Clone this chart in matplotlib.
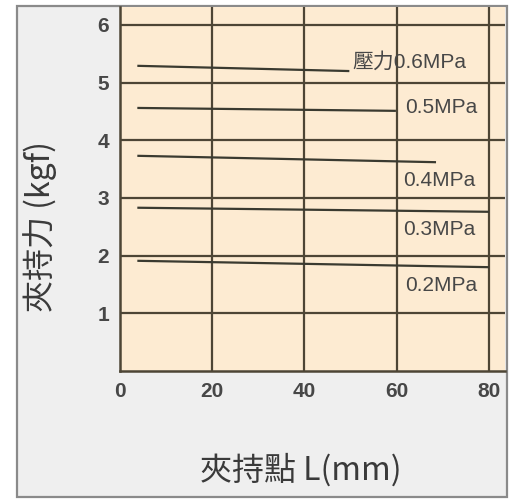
import matplotlib.pyplot as plt
from matplotlib.patches import Rectangle

# 夾持點 L(mm) 的起點與終點
x_start = [4, 4, 4, 4, 4]
x_end = [49.5, 59.6, 68.3, 79.8, 79.8]
# 夾持力 (kgf) 的起點與終點
f_start = [5.29, 4.56, 3.73, 2.83, 1.91]
f_end = [5.20, 4.51, 3.62, 2.76, 1.80]
etiquetas = ['壓力0.6MPa', '0.5MPa', '0.4MPa', '0.3MPa', '0.2MPa']
pos_etiquetas = [(50.3, 5.36), (61.8, 4.56), (61.4, 3.31), (61.4, 2.45), (61.8, 1.49)]

x_ticks = [0, 20, 40, 60, 80]
y_ticks = [1, 2, 3, 4, 5, 6]

cjk = ['Noto Sans CJK TC', 'DejaVu Sans']
cor_grade = '#4d4535'
cor_texto = '#474747'

fig = plt.figure(figsize=(5.10, 5.01), dpi=100)
fig.patch.set_facecolor('white')

# moldura externa cinza
fig.patches.append(Rectangle((17 / 510, 1 - 497 / 501), (507 - 17) / 510, (497 - 6) / 501,
                             transform=fig.transFigure, facecolor='#efefef',
                             edgecolor='#8a8a8a', linewidth=1.6, zorder=-1))

ax = fig.add_axes([120 / 510, 1 - 371 / 501, (505 - 120) / 510, (371 - 7) / 501])
ax.set_zorder(2)
ax.set_facecolor('#fdebd2')
ax.set_xlim(0, 83.5)
ax.set_ylim(0, 6.31)

for v in x_ticks[1:]:
    ax.axvline(v, color=cor_grade, linewidth=1.6, zorder=1)
for v in y_ticks:
    ax.axhline(v, color=cor_grade, linewidth=1.6, zorder=1)

for i in range(len(etiquetas)):
    ax.plot([x_start[i], x_end[i]], [f_start[i], f_end[i]], color='#3a3a30', linewidth=1.6, zorder=2)
    ax.text(pos_etiquetas[i][0], pos_etiquetas[i][1], etiquetas[i], ha='left', va='center',
            fontsize=15, color=cor_texto, family=['Liberation Sans', 'Noto Sans CJK TC'], zorder=3)

for lado in ['top', 'right']:
    ax.spines[lado].set_visible(False)
for lado in ['left', 'bottom']:
    ax.spines[lado].set_color(cor_grade)
    ax.spines[lado].set_linewidth(1.8)

ax.set_xticks(x_ticks)
ax.set_yticks(y_ticks)
ax.tick_params(length=0, pad=8, labelsize=15, labelcolor=cor_texto)
for lbl in ax.get_xticklabels() + ax.get_yticklabels():
    lbl.set_family('Liberation Sans')
    lbl.set_fontweight('bold')

fig.text(301 / 510, 1 - 470 / 501, '夾持點 L(mm)', ha='center', va='center',
         fontsize=23, color='#3a3a3a', family=cjk)
fig.text(40 / 510, 1 - 227 / 501, '夾持力 (kgf)', ha='center', va='center', rotation=90,
         fontsize=23, color='#3a3a3a', family=cjk)

fig.savefig('out.png', dpi=100)
